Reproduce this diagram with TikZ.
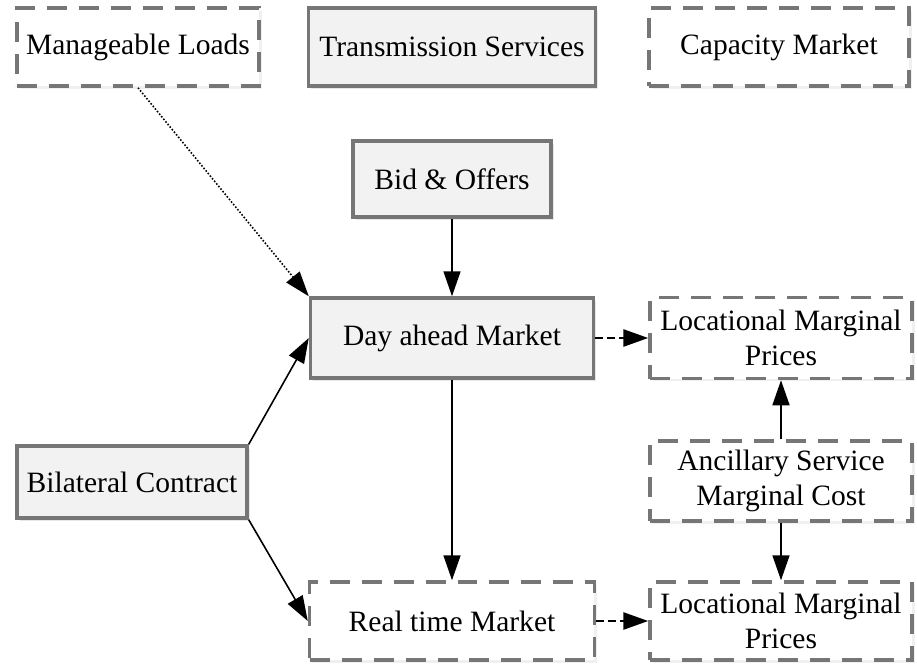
\documentclass[tikz,border=0pt]{standalone}
\usepackage{fontspec}
\setmainfont{Liberation Serif}
\usetikzlibrary{arrows.meta,shadows}
\definecolor{boxline}{RGB}{118,118,118}
\definecolor{boxfill}{RGB}{242,242,242}

\begin{document}
\begin{tikzpicture}[x=0.02cm, y=-0.02cm, >={Triangle[length=5mm,width=3.4mm]},
    font=\fontsize{16.8}{20}\selectfont,
    solidbox/.style={draw=boxline, line width=2pt, fill=boxfill, align=center, inner sep=0pt,
        drop shadow={opacity=0.18, shadow xshift=1.5pt, shadow yshift=-1.5pt}},
    dashbox/.style={draw=boxline, line width=2pt, dash pattern=on 4mm off 2.4mm, fill=white,
        align=center, inner sep=0pt,
        drop shadow={opacity=0.12, shadow xshift=1.5pt, shadow yshift=-1.5pt}},
    link/.style={->, line width=0.9pt},
    dashlink/.style={->, line width=1.6pt, dash pattern=on 1.5mm off 0.9mm}]
    \useasboundingbox (0,0) rectangle (917,664);

    \node[dashbox, minimum width=4.84cm, minimum height=1.56cm](0) at (138, 47) {Manageable Loads};
    \node[solidbox, minimum width=5.74cm, minimum height=1.56cm](1) at (452, 47) {Transmission Services};
    \node[dashbox, minimum width=5.2cm, minimum height=1.56cm](2) at (779, 47) {Capacity Market};
    \node[solidbox, minimum width=3.96cm, minimum height=1.52cm](3) at (452, 179) {Bid \& Offers};
    \node[solidbox, minimum width=5.66cm, minimum height=1.6cm](4) at (452, 338) {Day ahead Market};
    \node[dashbox, minimum width=5.24cm, minimum height=1.62cm](5) at (781, 338) {Locational Marginal\\Prices};
    \node[dashbox, minimum width=5.24cm, minimum height=1.6cm](6) at (781, 481) {Ancillary Service\\Marginal Cost};
    \node[solidbox, minimum width=4.6cm, minimum height=1.44cm](7) at (132, 482) {Bilateral Contract};
    \node[dashbox, minimum width=5.7cm, minimum height=1.56cm](8) at (452, 621) {Real time Market};
    \node[dashbox, minimum width=5.24cm, minimum height=1.56cm](9) at (781, 621) {Locational Marginal\\Prices};

    \draw[->, line width=0.9pt, densely dotted](0.south)--(4.north west);
    \foreach \k/\l in {3/4, 4/8, 6/5, 6/9}{\draw[link](\k)--(\l);}
    \draw[link](7.north east)--(4.west);
    \draw[link](7.south east)--(8.west);
    \foreach \k/\l in {4/5, 8/9}{\draw[dashlink](\k)--(\l);}
\end{tikzpicture}
\end{document}
